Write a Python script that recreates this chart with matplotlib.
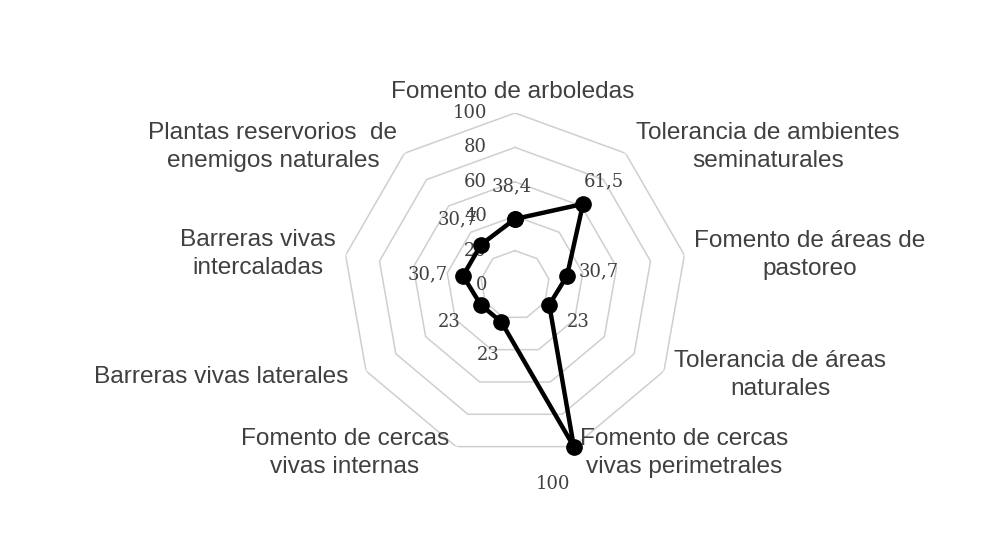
import numpy as np
import matplotlib
matplotlib.use("Agg")
import matplotlib.pyplot as plt

# ---- data ----
categories = [
    "Fomento de arboledas",
    "Tolerancia de ambientes\nseminaturales",
    "Fomento de áreas de\npastoreo",
    "Tolerancia de áreas\nnaturales",
    "Fomento de cercas\nvivas perimetrales",
    "Fomento de cercas\nvivas internas",
    "Barreras vivas laterales",
    "Barreras vivas\nintercaladas",
    "Plantas reservorios  de\nenemigos naturales",
]
values = [38.4, 61.5, 30.7, 23, 100, 23, 23, 30.7, 30.7]
value_labels = ["38,4", "61,5", "30,7", "23", "100", "23", "23", "30,7", "30,7"]
r_ticks = [0, 20, 40, 60, 80, 100]
r_tick_labels = ["0", "20", "40", "60", "80", "100"]

# ---- layout / style ----
W, H = 1000, 553
cx, cy, R = 515, 285, 172
label_pos = [(513, 92), (768, 147), (810, 255), (780, 375), (684, 453),
             (345, 453), (221, 377), (258, 254), (273, 147)]
label_offsets = [(-3, 33), (21, 23), (32, 4), (29, -17), (-21, -37),
                 (-13, -33), (-31, -17), (-35, 1), (-23, 25)]
text_col = "#404040"
grid_col = "#cfcfcf"

fig = plt.figure(figsize=(W / 100, H / 100), dpi=100)
fig.patch.set_facecolor("white")
ax = fig.add_axes([(cx - R) / W, 1 - (cy + R) / H, 2 * R / W, 2 * R / H],
                  projection="polar")
ax.set_theta_offset(np.pi / 2)
ax.set_theta_direction(-1)
ax.set_ylim(0, 100)
ax.axis("off")

n = len(categories)
angles = np.arange(n) * 2 * np.pi / n
ring_angles = np.append(angles, angles[0])

for r in r_ticks[1:]:
    ax.plot(ring_angles, [r] * (n + 1), color=grid_col, lw=1.1, zorder=1)

# radial tick labels along top spoke
for r, lab in zip(r_ticks, r_tick_labels):
    ax.annotate(lab, xy=(0, r), xytext=(-28, 0), textcoords="offset pixels",
                ha="right", va="center", fontsize=13, color=text_col,
                family="DejaVu Serif", zorder=2)

vals = np.append(values, values[0])
ax.plot(ring_angles, vals, color="black", lw=3.2, marker="o",
        markersize=11, zorder=3, clip_on=False)

for a, v, lab, off in zip(angles, values, value_labels, label_offsets):
    ax.annotate(lab, xy=(a, v), xytext=off, textcoords="offset pixels",
                ha="center", va="center", fontsize=13, color=text_col,
                family="DejaVu Serif", zorder=4)

for lab, (x, y) in zip(categories, label_pos):
    fig.text(x / W, 1 - y / H, lab, ha="center", va="center",
             multialignment="center", fontsize=17.6, color=text_col,
             family="Liberation Sans", linespacing=1.3)

fig.savefig("out.png", dpi=100, facecolor="white")
